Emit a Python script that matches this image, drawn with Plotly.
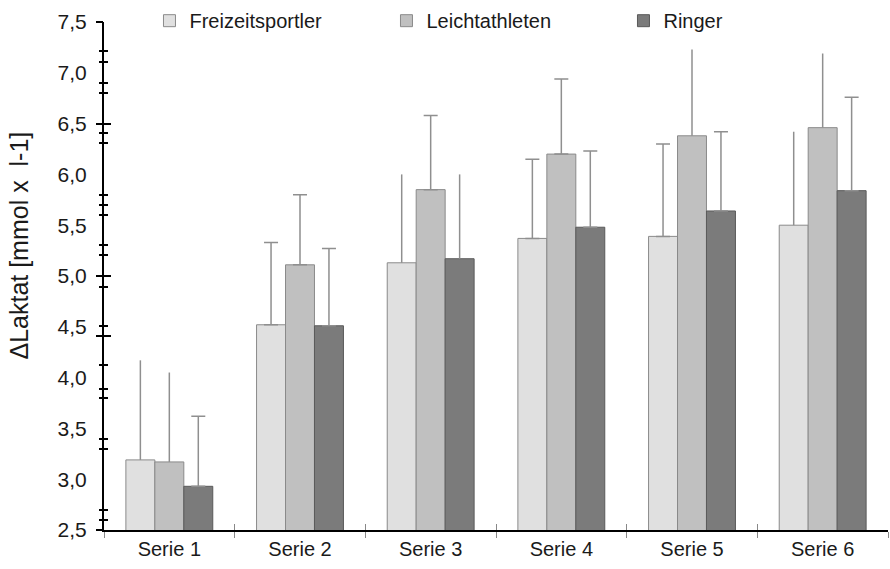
import plotly.graph_objects as go

# ---------------- data ----------------
categories = ["Serie 1", "Serie 2", "Serie 3", "Serie 4", "Serie 5", "Serie 6"]
series_names = ["Freizeitsportler", "Leichtathleten", "Ringer"]

freizeit = [3.19, 4.52, 5.13, 5.37, 5.39, 5.50]
leicht = [3.17, 5.11, 5.85, 6.20, 6.38, 6.46]
ringer = [2.93, 4.51, 5.17, 5.48, 5.64, 5.84]

freizeit_err = [0.98, 0.81, 0.87, 0.78, 0.91, 0.92]
leicht_err = [0.88, 0.69, 0.73, 0.74, 0.85, 0.73]
ringer_err = [0.69, 0.76, 0.83, 0.75, 0.78, 0.92]

# which error bars show a visible cap in the reference
freizeit_cap = [False, True, False, True, True, False]
leicht_cap = [False, True, True, True, False, False]
ringer_cap = [True, True, False, True, True, True]

# y axis labels and the (irregular) tick marks seen in the reference
label_vals = [2.5, 3.0, 3.5, 4.0, 4.5, 5.0, 5.5, 6.0, 6.5, 7.0, 7.5]
long_ticks = [2.5, 4.41, 5.0, 6.5, 7.5]
short_ticks = [2.6, 2.7, 3.3, 3.4, 3.8, 3.89, 4.12, 4.51, 4.89, 5.21, 5.31,
               5.6, 5.7, 5.8, 6.31, 6.41, 6.8, 6.9, 7.11, 7.21]

# ---------------- styles ----------------
fills = ["#e0e0e0", "#c0c0c0", "#7b7b7b"]
outlines = ["#8a8a8a", "#8a8a8a", "#5a5a5a"]
FONT = "Liberation Sans, Arial, sans-serif"

values = [freizeit, leicht, ringer]
errors = [freizeit_err, leicht_err, ringer_err]
caps = [freizeit_cap, leicht_cap, ringer_cap]
n = len(categories)

fig = go.Figure()

for k, name in enumerate(series_names):
    fig.add_trace(go.Bar(
        x=categories, y=values[k], name=name, offsetgroup=str(k),
        marker=dict(color=fills[k], line=dict(color=outlines[k], width=1)),
        hoverinfo="skip",
    ))
    for capped in (True, False):
        yv = [v if c == capped else None for v, c in zip(values[k], caps[k])]
        fig.add_trace(go.Bar(
            x=categories, y=yv, offsetgroup=str(k), showlegend=False,
            marker=dict(color="rgba(0,0,0,0)", line=dict(width=0)),
            error_y=dict(type="data", symmetric=False, array=errors[k],
                         arrayminus=[0] * n, visible=True,
                         color="#8f8f8f", thickness=1.5,
                         width=7 if capped else 0),
            hoverinfo="skip",
        ))

boundaries = [i - 0.5 for i in range(n + 1)]

# invisible helper traces so overlay axes are drawn
fig.add_trace(go.Scatter(x=boundaries, y=[None] * len(boundaries), xaxis="x2",
                         yaxis="y", mode="markers", marker=dict(opacity=0),
                         showlegend=False, hoverinfo="skip"))
for ax in ["y2", "y3", "y4", "y5"]:
    fig.add_trace(go.Scatter(x=[categories[0]], y=[None], xaxis="x", yaxis=ax,
                             mode="markers", marker=dict(opacity=0),
                             showlegend=False, hoverinfo="skip"))

yr = [label_vals[0], label_vals[-1]]
common_y = dict(range=yr, overlaying="y", anchor="x", side="left",
                showticklabels=False, showgrid=False, zeroline=False,
                showline=False, tickmode="array", tickcolor="black",
                tickwidth=1.5, automargin=False)

fig.update_layout(
    width=890, height=569,
    margin=dict(l=104, r=2, t=22, b=39, autoexpand=False),
    paper_bgcolor="white", plot_bgcolor="white",
    separators=",.",
    font=dict(family=FONT, size=20, color="#1a1a1a"),
    barmode="group", bargap=0.335, bargroupgap=0,
    showlegend=True,
    legend=dict(orientation="h", x=0.058, xanchor="left", y=1.041,
                yanchor="top", entrywidth=192, font=dict(size=20),
                bgcolor="rgba(0,0,0,0)", itemclick=False),
    xaxis=dict(type="category", range=[-0.5, n - 0.5], showline=True,
               linecolor="black", linewidth=2, ticks="outside",
               tickson="boundaries", ticklen=6, tickcolor="#888",
               tickwidth=1, showgrid=False, tickfont=dict(size=20),
               automargin=False),
    xaxis2=dict(overlaying="x", anchor="y", range=[-0.5, n - 0.5],
                tickmode="array", tickvals=boundaries, ticks="inside",
                ticklen=6, tickcolor="#888", tickwidth=1,
                showticklabels=False, showgrid=False, zeroline=False,
                showline=False, automargin=False),
    yaxis=dict(range=yr, tickmode="array", tickvals=label_vals,
               tickformat=".1f", ticks="", showline=True, linecolor="black",
               linewidth=2, showgrid=False, zeroline=False,
               ticklabelstandoff=11, tickfont=dict(size=21),
               automargin=False),
    yaxis2=dict(common_y, tickvals=long_ticks, ticks="outside", ticklen=7),
    yaxis3=dict(common_y, tickvals=long_ticks, ticks="inside", ticklen=7),
    yaxis4=dict(common_y, tickvals=short_ticks, ticks="outside", ticklen=4),
    yaxis5=dict(common_y, tickvals=short_ticks, ticks="inside", ticklen=4),
    annotations=[dict(text="\u0394Laktat [mmol x\u00a0\u00a0l-1]",
                      textangle=-90, xref="paper", yref="paper",
                      x=-0.109, y=0.559, xanchor="center", yanchor="middle",
                      showarrow=False, font=dict(size=25))],
)

fig.write_html("out.html", config={"displayModeBar": False},
               post_script="document.body.style.margin='0px';")
